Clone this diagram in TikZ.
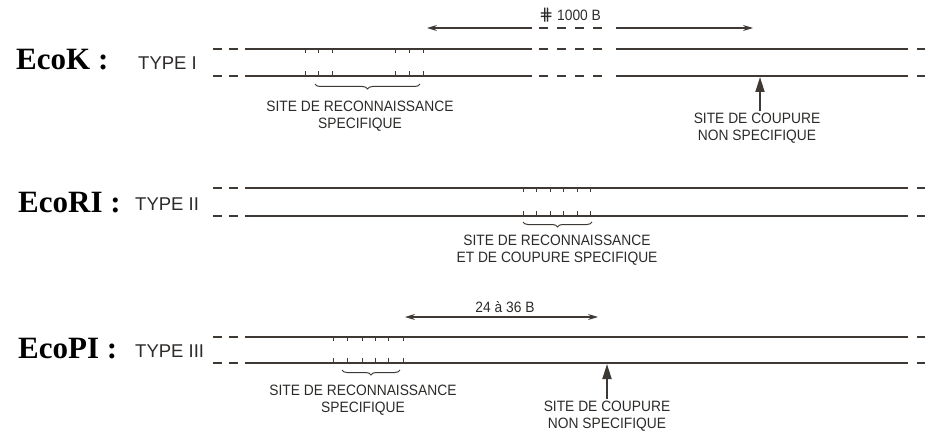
\documentclass[tikz,border=0pt]{standalone}
\usepackage{fontspec}
\setmainfont{Liberation Serif}
\newfontfamily\lblfont{Liberation Sans}
\newfontfamily\narrowfont[FakeStretch=0.92]{Liberation Sans}
\newfontfamily\symfont{DejaVu Sans}
\usetikzlibrary{positioning, arrows.meta, decorations.pathreplacing}
\definecolor{ink}{RGB}{62,57,52}
\definecolor{txt}{RGB}{45,43,41}

\begin{document}
\begin{tikzpicture}[
	x=1pt, y=-1pt,
	strand/.style={draw=ink, line width=1.9pt},
	gap/.style={strand, dash pattern=on 9pt off 9pt},
	stub/.style={strand, dash pattern=on 9pt off 7pt},
	tick/.style={draw=ink, line width=1pt},
	bracket/.style={draw=ink, line width=1pt, decorate, decoration={brace, mirror, amplitude=5pt}},
	enzyme/.style={font=\bfseries\fontsize{31}{31}\selectfont, anchor=base west, inner sep=0pt},
	kind/.style={font=\lblfont\fontsize{18.5}{18.5}\selectfont, text=txt, anchor=base west, inner sep=0pt},
	site/.style={font=\narrowfont\fontsize{15}{17}\selectfont, text=txt, align=center, inner sep=0pt},
	span/.style={draw=ink, line width=1.1pt},
	cut/.style={draw=ink, line width=1.8pt, -{Triangle[length=15pt, width=9pt]}}
]
	\useasboundingbox (0,0) rectangle (928,433);

	% EcoK : type I
	\node[enzyme] (ecok) at (16,70) {EcoK :};
	\node[kind] (typei) at (138,70) {TYPE I};
	\foreach \y in {49,76} {
		\draw[stub] (213,\y) -- (238,\y);
		\draw[strand] (245,\y) -- (532,\y);
		\draw[gap] (539,\y) -- (610,\y);
		\draw[strand] (616,\y) -- (908,\y);
		\draw[strand] (917,\y) -- (925,\y);
	}
	\foreach \x in {305,318,332,395,409,423} {
		\draw[tick] (\x,49) -- ++(0,4);
		\draw[tick] (\x,76) -- ++(0,-5);
	}
	\draw[bracket] (315,84) -- (420,84);
	\node[site] (recok) at (360,116) {SITE DE RECONNAISSANCE\\SPECIFIQUE};
	\coordinate (cutk) at (760,77);
	\node[site] (coupk) at (757,128) {SITE DE COUPURE\\NON SPECIFIQUE};
	\draw[cut] (coupk.north -| cutk) ++(0,-2) -- (cutk);
	\coordinate (kl) at (427,28);
	\coordinate (kr) at (753,28);
	\draw[span, {Stealth[length=10pt, width=6pt]}-] (kl) -- (532,28);
	\draw[span, dash pattern=on 9pt off 9pt] (539,28) -- (610,28);
	\draw[span, -{Stealth[length=10pt, width=6pt]}] (616,28) -- (kr);
	\node[site] (lenk) at (570,15) {{\symfont\fontsize{17}{17}\selectfont ⋕} 1000 B};

	% EcoRI : type II
	\node[enzyme] (ecori) at (18,212) {EcoRI :};
	\node[kind] (typeii) at (135,210) {TYPE II};
	\foreach \y in {188,216} {
		\draw[stub] (213,\y) -- (238,\y);
		\draw[strand] (245,\y) -- (908,\y);
		\draw[strand] (917,\y) -- (925,\y);
	}
	\foreach \x in {523,536,550,563,577,590} {
		\draw[tick] (\x,188) -- ++(0,4);
		\draw[tick] (\x,216) -- ++(0,-5);
	}
	\draw[bracket] (523,222) -- (592,222);
	\node[site] (recori) at (557,250) {SITE DE RECONNAISSANCE\\ET DE COUPURE SPECIFIQUE};

	% EcoPI : type III
	\node[enzyme] (ecopi) at (18,358) {EcoPI :};
	\node[kind] (typeiii) at (135,357) {TYPE III};
	\foreach \y in {337,363} {
		\draw[stub] (213,\y) -- (238,\y);
		\draw[strand] (245,\y) -- (908,\y);
		\draw[strand] (917,\y) -- (925,\y);
	}
	\foreach \x in {333,347,362,375,388,403} {
		\draw[tick] (\x,337) -- ++(0,4);
		\draw[tick] (\x,363) -- ++(0,-5);
	}
	\draw[bracket] (342,370) -- (400,370);
	\node[site] (recopi) at (363,400) {SITE DE RECONNAISSANCE\\SPECIFIQUE};
	\coordinate (cutp) at (607,364);
	\node[site] (coupp) at (607,416) {SITE DE COUPURE\\NON SPECIFIQUE};
	\draw[cut] (coupp.north -| cutp) ++(0,-2) -- (cutp);
	\coordinate (pl) at (405,317);
	\coordinate (pr) at (598,317);
	\draw[span, {Stealth[length=10pt, width=6pt]}-{Stealth[length=10pt, width=6pt]}] (pl) -- (pr);
	\node[site] (lenp) at (505,307) {24 à 36 B};
\end{tikzpicture}
\end{document}
